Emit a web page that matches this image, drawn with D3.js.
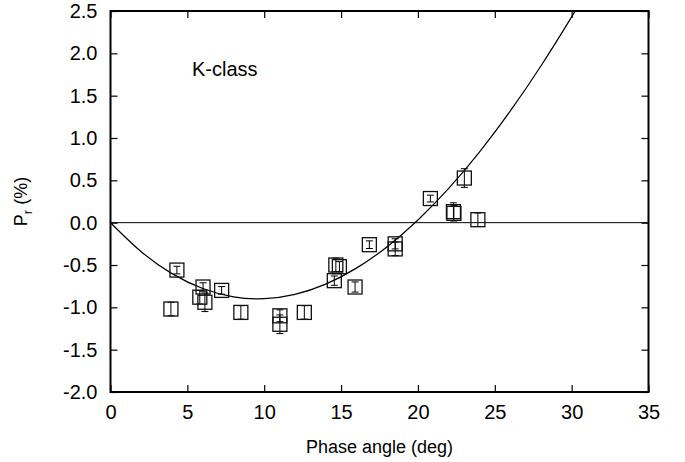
<!DOCTYPE html>
<html>
<head>
<meta charset="utf-8">
<script src="https://cdn.jsdelivr.net/npm/d3@7"></script>
<style>
  body { margin: 0; background: #fff; }
  svg text { font-family: 'Liberation Sans', Arial, Helvetica, sans-serif; fill: #000; }
</style>
</head>
<body>
<div id="viz"></div>
<script>
(function polarPlot() {
  const svgWidth = 685;
  const svgHeight = 462;
  const margin = { top: 11, right: 36.5, bottom: 70, left: 110.5 };

  // observations: phase angle (deg), Pr (%), error (%)
  const phaseAngle = [3.93, 4.32, 6.02, 5.81, 6.14, 7.23, 8.48, 11.02, 11.02, 12.61,
    14.56, 14.66, 14.89, 15.91, 16.84, 18.52, 18.52, 20.81, 23.02, 22.31, 22.34, 23.90];
  const polarization = [-1.02, -0.56, -0.76, -0.88, -0.94, -0.80, -1.06, -1.10, -1.20, -1.06,
    -0.685, -0.50, -0.52, -0.76, -0.26, -0.25, -0.31, 0.285, 0.527, 0.13, 0.11, 0.035];
  const polError = [0.08, 0.045, 0.05, 0.08, 0.11, 0.045, 0.08, 0.07, 0.11, 0.08,
    0.055, 0.08, 0.06, 0.06, 0.045, 0.06, 0.08, 0.04, 0.11, 0.105, 0.09, 0.08];

  // fitted phase curve
  const curveAngle = [0, 2, 4, 6, 8, 10, 12, 14, 16, 18, 20, 22, 24, 26, 28, 30, 31];
  const curvePol = [0, -0.343, -0.602, -0.778, -0.876, -0.898, -0.847, -0.726, -0.537,
    -0.284, 0.031, 0.404, 0.834, 1.317, 1.85, 2.43, 2.737];

  const xTicks = [0, 5, 10, 15, 20, 25, 30, 35];
  const yTicks = [-2.0, -1.5, -1.0, -0.5, 0.0, 0.5, 1.0, 1.5, 2.0, 2.5];

  const points = phaseAngle.map((a, i) => ({ a, p: polarization[i], e: polError[i] }));
  const fit = curveAngle.map((a, i) => ({ a, p: curvePol[i] }));

  const x = d3.scaleLinear()
    .domain([0, 35])
    .range([margin.left, svgWidth - margin.right]);
  const y = d3.scaleLinear()
    .domain([-2, 2.5])
    .range([svgHeight - margin.bottom, margin.top]);

  // plain hyphen for negatives, as in the original
  const yFormat = d => d.toFixed(1);

  const svg = d3.select('#viz').append('svg')
    .attr('width', svgWidth)
    .attr('height', svgHeight);

  svg.append('clipPath')
    .attr('id', 'plot-clip')
    .append('rect')
    .attr('x', x(0))
    .attr('y', y(2.5))
    .attr('width', x(35) - x(0))
    .attr('height', y(-2) - y(2.5));

  // zero line
  svg.append('line')
    .attr('x1', x(0))
    .attr('x2', x(35))
    .attr('y1', y(0))
    .attr('y2', y(0))
    .attr('stroke', '#000')
    .attr('stroke-width', 1);

  // fit curve
  const line = d3.line()
    .x(d => x(d.a))
    .y(d => y(d.p))
    .curve(d3.curveNatural);

  svg.append('path')
    .datum(fit)
    .attr('clip-path', 'url(#plot-clip)')
    .attr('fill', 'none')
    .attr('stroke', '#000')
    .attr('stroke-width', 1.2)
    .attr('d', line);

  // data points: error bars + open squares
  const pts = svg.append('g').attr('class', 'points');
  const box = 14;
  const cap = 3.5;

  const single = pts.selectAll('g.pt')
    .data(points)
    .enter()
    .append('g')
    .attr('class', 'pt');

  single.append('line')
    .attr('x1', d => x(d.a))
    .attr('x2', d => x(d.a))
    .attr('y1', d => y(d.p - d.e))
    .attr('y2', d => y(d.p + d.e))
    .attr('stroke', '#000')
    .attr('stroke-width', 1);

  single.append('line')
    .attr('x1', d => x(d.a) - cap)
    .attr('x2', d => x(d.a) + cap)
    .attr('y1', d => y(d.p + d.e))
    .attr('y2', d => y(d.p + d.e))
    .attr('stroke', '#000')
    .attr('stroke-width', 1);

  single.append('line')
    .attr('x1', d => x(d.a) - cap)
    .attr('x2', d => x(d.a) + cap)
    .attr('y1', d => y(d.p - d.e))
    .attr('y2', d => y(d.p - d.e))
    .attr('stroke', '#000')
    .attr('stroke-width', 1);

  single.append('rect')
    .attr('x', d => x(d.a) - box / 2)
    .attr('y', d => y(d.p) - box / 2)
    .attr('width', box)
    .attr('height', box)
    .attr('fill', 'none')
    .attr('stroke', '#111')
    .attr('stroke-width', 1.3);

  // axes, ticks pointing inward on all four sides
  const fontSize = '20px';
  const bottom = svg.append('g')
    .attr('transform', `translate(0,${y(-2)})`)
    .call(d3.axisBottom(x).tickValues(xTicks).tickFormat(d3.format('d'))
      .tickSizeInner(-7).tickSizeOuter(0).tickPadding(13));
  const left = svg.append('g')
    .attr('transform', `translate(${x(0)},0)`)
    .call(d3.axisLeft(y).tickValues(yTicks).tickFormat(yFormat)
      .tickSizeInner(-7).tickSizeOuter(0).tickPadding(13));
  const top = svg.append('g')
    .attr('transform', `translate(0,${y(2.5)})`)
    .call(d3.axisTop(x).tickValues(xTicks).tickFormat('')
      .tickSizeInner(-7).tickSizeOuter(0));
  const right = svg.append('g')
    .attr('transform', `translate(${x(35)},0)`)
    .call(d3.axisRight(y).tickValues(yTicks).tickFormat('')
      .tickSizeInner(-7).tickSizeOuter(0));

  [bottom, left, top, right].forEach((ax) => {
    ax.select('.domain').remove();
    ax.selectAll('.tick line').attr('stroke', '#000').attr('stroke-width', 1.2);
    ax.selectAll('text')
      .style('font-size', fontSize)
      .style('font-family', "'Liberation Sans', Arial, sans-serif")
      .attr('fill', '#000');
  });

  // frame
  svg.append('rect')
    .attr('x', x(0))
    .attr('y', y(2.5))
    .attr('width', x(35) - x(0))
    .attr('height', y(-2) - y(2.5))
    .attr('fill', 'none')
    .attr('stroke', '#000')
    .attr('stroke-width', 2);

  // labels
  svg.append('text')
    .attr('x', (x(0) + x(35)) / 2)
    .attr('y', 453)
    .attr('text-anchor', 'middle')
    .style('font-size', '18px')
    .text('Phase angle (deg)');

  const yLabel = svg.append('text')
    .attr('transform', `translate(27,${(y(-2) + y(2.5)) / 2}) rotate(-90)`)
    .attr('text-anchor', 'middle')
    .style('font-size', '18px');
  yLabel.append('tspan').text('P');
  yLabel.append('tspan').attr('dy', 5).style('font-size', '13px').text('r');
  yLabel.append('tspan').attr('dy', -5).text(' (%)');

  svg.append('text')
    .attr('x', 192)
    .attr('y', 76)
    .style('font-size', '20px')
    .text('K-class');
}());
</script>
</body>
</html>
